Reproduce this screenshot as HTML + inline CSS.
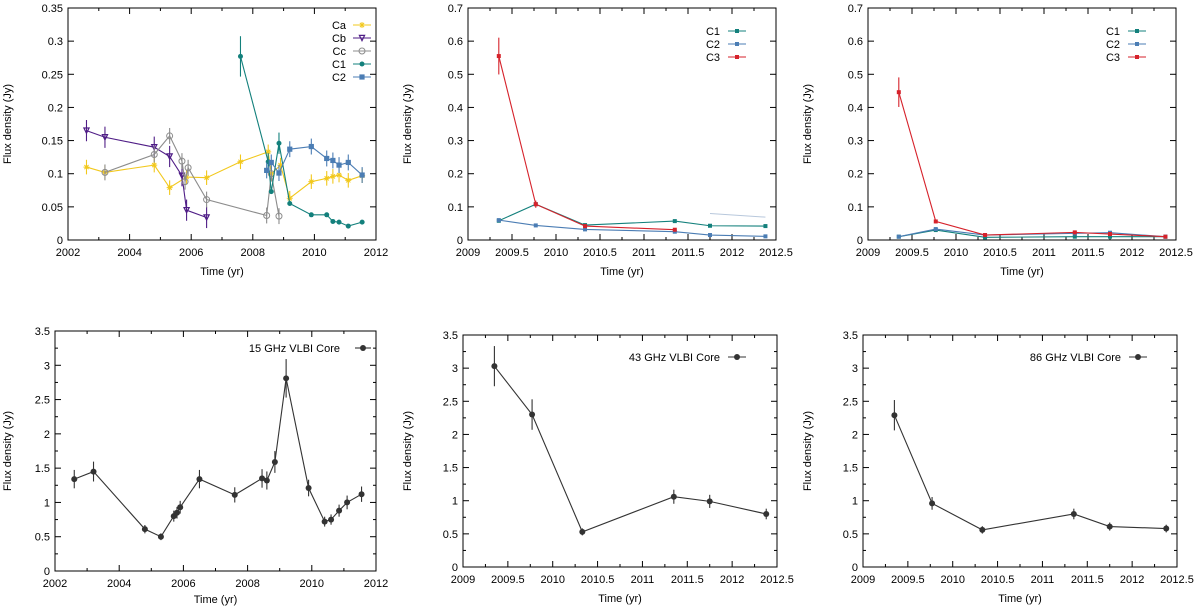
<!DOCTYPE html>
<html><head><meta charset="utf-8"><style>
body{margin:0;background:#fff;}
svg{display:block;font-family:"Liberation Sans",sans-serif;}
</style></head><body>
<svg id="fig" width="1200" height="609" viewBox="0 0 1200 609"></svg>
<script>
// ---- Data ----
const caX=[2002.6,2003.2,2004.8,2005.3,2005.85,2006.5,2007.6,2008.5,2008.6,2008.9,2009.2,2009.9,2010.4,2010.6,2010.8,2011.1,2011.55];
const caY=[0.11,0.102,0.113,0.079,0.095,0.094,0.118,0.133,0.10,0.113,0.063,0.088,0.093,0.096,0.098,0.09,0.097];
const cbX=[2002.6,2003.2,2004.8,2005.3,2005.7,2005.85,2006.5];
const cbY=[0.165,0.155,0.14,0.126,0.097,0.045,0.034];
const ccX=[2003.2,2004.8,2005.3,2005.7,2005.8,2005.9,2006.5,2008.45,2008.6,2008.85];
const ccY=[0.102,0.129,0.157,0.119,0.088,0.109,0.061,0.037,0.10,0.036];
const c1X=[2007.6,2008.5,2008.6,2008.85,2009.2,2009.9,2010.4,2010.6,2010.8,2011.1,2011.55];
const c1Y=[0.277,0.118,0.073,0.146,0.055,0.038,0.038,0.028,0.027,0.021,0.027];
const c2X=[2008.45,2008.6,2008.85,2009.2,2009.9,2010.4,2010.6,2010.8,2011.1,2011.55];
const c2Y=[0.105,0.117,0.101,0.137,0.141,0.123,0.12,0.113,0.117,0.098];

const epochX=[2009.35,2009.77,2010.33,2011.35,2011.75,2012.38];
const m43C1=[0.058,0.108,0.045,0.057,0.043,0.042];
const m43C2=[0.06,0.044,0.032,0.025,0.015,0.011];
const m43C3=[0.555,0.108,0.042,0.031];
const m86C1=[0.01,0.03,0.008,0.01,0.01,0.01];
const m86C2=[0.01,0.033,0.015,0.02,0.022,0.01];
const m86C3=[0.446,0.056,0.015,0.023,0.018,0.01];

const core15X=[2002.6,2003.2,2004.8,2005.3,2005.7,2005.8,2005.9,2006.5,2007.6,2008.45,2008.6,2008.85,2009.2,2009.9,2010.4,2010.6,2010.85,2011.1,2011.55];
const core15Y=[1.34,1.45,0.61,0.50,0.80,0.85,0.93,1.34,1.11,1.35,1.32,1.59,2.81,1.21,0.72,0.75,0.88,1.0,1.12];
const core43Y=[3.03,2.30,0.53,1.06,0.99,0.80];
const core86Y=[2.29,0.96,0.56,0.80,0.61,0.58];

const ticksYearA=[2002,2004,2006,2008,2010,2012];
const ticksYearB=[2009,2009.5,2010,2010.5,2011,2011.5,2012,2012.5];
const ticksSmall=[0,0.05,0.1,0.15,0.2,0.25,0.3,0.35];
const ticksMid=[0,0.1,0.2,0.3,0.4,0.5,0.6,0.7];
const ticksCore=[0,0.5,1,1.5,2,2.5,3,3.5];

// ---- Drawing ----
const NS="http://www.w3.org/2000/svg";
const svg=document.getElementById('fig');
function el(tag,attrs,parent,name){const e=document.createElementNS(NS,tag);for(const k in attrs)e.setAttribute(k,attrs[k]);


(parent||svg).appendChild(e);return e;}
function fmt(v){return String(+v.toFixed(3));}

function panel(cfg){
  const g=el('g',{},svg,cfg.name);
  const {L,R,T,B,x0,x1,y0,y1}=cfg;
  const sx=v=>L+(v-x0)/(x1-x0)*(R-L), sy=v=>B-(v-y0)/(y1-y0)*(B-T);
  el('rect',{x:L,y:T,width:R-L,height:B-T,fill:'none',stroke:'#000','stroke-width':1},g,'plot-frame');
  const xt=cfg.xticks, yt=cfg.yticks;
  xt.forEach((v,i)=>{const x=sx(v);
    el('line',{x1:x,x2:x,y1:B,y2:B-6,stroke:'#000'},g,'x-tick');
    el('line',{x1:x,x2:x,y1:T,y2:T+6,stroke:'#000'},g,'x-tick');
    if(i<xt.length-1){const xm=sx((v+xt[i+1])/2);
      el('line',{x1:xm,x2:xm,y1:B,y2:B-3,stroke:'#000'},g,'x-minor-tick');
      el('line',{x1:xm,x2:xm,y1:T,y2:T+3,stroke:'#000'},g,'x-minor-tick');}
    const t=el('text',{x:x,y:B+16,'font-size':11,'text-anchor':'middle'},g,'x-tick-label');t.textContent=fmt(v);});
  yt.forEach((v,i)=>{const y=sy(v);
    el('line',{x1:L,x2:L+6,y1:y,y2:y,stroke:'#000'},g,'y-tick');
    el('line',{x1:R,x2:R-6,y1:y,y2:y,stroke:'#000'},g,'y-tick');
    if(cfg.yminor&&i<yt.length-1){const ym=sy((v+yt[i+1])/2);
      el('line',{x1:L,x2:L+3,y1:ym,y2:ym,stroke:'#000'},g,'y-minor-tick');
      el('line',{x1:R,x2:R-3,y1:ym,y2:ym,stroke:'#000'},g,'y-minor-tick');}
    const t=el('text',{x:L-5,y:y+4,'font-size':11,'text-anchor':'end'},g,'y-tick-label');t.textContent=fmt(v);});
  const xtit=el('text',{x:(L+R)/2,y:B+(cfg.xtitleDy||34),'font-size':11,'text-anchor':'middle'},g,'x-axis-title');xtit.textContent='Time (yr)';
  const yx=cfg.ytitleX, yy=(T+B)/2;
  const ytit=el('text',{x:yx,y:yy,'font-size':11,'text-anchor':'middle',transform:`rotate(-90 ${yx} ${yy})`},g,'y-axis-title');ytit.textContent='Flux density (Jy)';
  cfg.series.forEach((s,si)=>{
    const sg=el('g',{},g,'series-'+s.label.toLowerCase().replace(/\s+/g,'-'));
    const pts=s.y.map((v,i)=>[sx(s.x[i]),sy(v)]);
    el('polyline',{points:pts.map(p=>p.join(',')).join(' '),fill:'none',stroke:s.color,'stroke-width':s.lw||1.1},sg,'series-line');
    pts.forEach((p,i)=>{
      const e=(s.err?s.err(s.y[i]):0);
      if(e>0){el('line',{x1:p[0],x2:p[0],y1:sy(s.y[i]-e),y2:sy(s.y[i]+e),stroke:s.color,'stroke-width':1.1},sg,'error-bar');}
      marker(sg,s.marker,p[0],p[1],s.color,s.size||3);
    });
    if(s.legY!==undefined){
      const lt=el('text',{x:cfg.legTextX,y:s.legY+4,'font-size':11,'text-anchor':'end'},g,'legend-label');lt.textContent=s.label;
      el('line',{x1:cfg.legLine[0],x2:cfg.legLine[1],y1:s.legY,y2:s.legY,stroke:s.color,'stroke-width':1.1},g,'legend-line');
      marker(g,s.marker,(cfg.legLine[0]+cfg.legLine[1])/2,s.legY,s.color,s.size||3);
    }
  });
  if(cfg.extra)cfg.extra(g,sx,sy);
}
function marker(g,type,x,y,c,r){
  if(type==='circle')el('circle',{cx:x,cy:y,r:r,fill:c},g,'marker');
  else if(type==='ocircle')el('circle',{cx:x,cy:y,r:r,fill:'none',stroke:c,'stroke-width':1},g,'marker');
  else if(type==='square')el('rect',{x:x-r,y:y-r,width:2*r,height:2*r,fill:c},g,'marker');
  else if(type==='tri')el('polygon',{points:`${x-r},${y-r} ${x+r},${y-r} ${x},${y+r}`,fill:'none',stroke:c,'stroke-width':1.2},g,'marker');
  else if(type==='star'){el('path',{d:`M${x-r} ${y}H${x+r}M${x} ${y-r}V${y+r}M${x-r*.7} ${y-r*.7}L${x+r*.7} ${y+r*.7}M${x-r*.7} ${y+r*.7}L${x+r*.7} ${y-r*.7}`,stroke:c,'stroke-width':1},g,'marker');}
}
const YEL='#f2c81c',PUR='#4f1d86',GRY='#8c8c8c',TEA='#13807c',BLU='#4b7db4',RED='#d6222b',DK='#333';

panel({name:'panel-components-15ghz',L:68,R:376,T:8,B:240,x0:2002,x1:2012,y0:0,y1:0.35,xticks:ticksYearA,yticks:ticksSmall,yminor:false,ytitleX:11,xtitleDy:35,
  legTextX:346,legLine:[353,371],series:[
  {label:'Ca',x:caX,y:caY,color:YEL,marker:'star',err:v=>0.011,legY:25},
  {label:'Cb',x:cbX,y:cbY,color:PUR,marker:'tri',size:2.6,err:v=>0.016,legY:38},
  {label:'Cc',x:ccX,y:ccY,color:GRY,marker:'ocircle',err:v=>0.012,legY:51},
  {label:'C1',x:c1X,y:c1Y,color:TEA,marker:'circle',size:2.5,err:v=>v>0.1?v*0.11:0,legY:64},
  {label:'C2',x:c2X,y:c2Y,color:BLU,marker:'square',size:2.6,err:v=>0.012,legY:77}]});

panel({name:'panel-components-43ghz',L:468,R:776,T:8,B:240,x0:2009,x1:2012.5,y0:0,y1:0.7,xticks:ticksYearB,yticks:ticksMid,yminor:false,ytitleX:411,xtitleDy:35,
  legTextX:720,legLine:[728,746],series:[
  {label:'C1',x:epochX,y:m43C1,color:TEA,marker:'square',size:2,err:v=>0.004,legY:31},
  {label:'C2',x:epochX,y:m43C2,color:BLU,marker:'square',size:2,err:v=>0.004,legY:44},
  {label:'C3',x:epochX,y:m43C3,color:RED,marker:'square',size:2,err:v=>v*0.1,legY:57}],
  extra:(g,sx,sy)=>{el('line',{x1:sx(2011.75),x2:sx(2012.38),y1:sy(0.08),y2:sy(0.069),stroke:'#b8c8dc','stroke-width':1},g,'faint-error-line');}});

panel({name:'panel-components-86ghz',L:868,R:1176,T:8,B:240,x0:2009,x1:2012.5,y0:0,y1:0.7,xticks:ticksYearB,yticks:ticksMid,yminor:false,ytitleX:811,xtitleDy:35,
  legTextX:1120,legLine:[1128,1146],series:[
  {label:'C1',x:epochX,y:m86C1,color:TEA,marker:'square',size:2,err:v=>0.003,legY:31},
  {label:'C2',x:epochX,y:m86C2,color:BLU,marker:'square',size:2,err:v=>0.003,legY:44},
  {label:'C3',x:epochX,y:m86C3,color:RED,marker:'square',size:2,err:v=>v*0.1,legY:57}]});

panel({name:'panel-core-15ghz',L:55,R:376,T:331,B:571,x0:2002,x1:2012,y0:0,y1:3.5,xticks:ticksYearA,yticks:ticksCore,yminor:true,ytitleX:11,xtitleDy:32,
  legTextX:340,legLine:[355,371],series:[
  {label:'15 GHz VLBI Core',x:core15X,y:core15Y,color:DK,marker:'circle',err:v=>v*0.1,legY:348}]});

panel({name:'panel-core-43ghz',L:463,R:777,T:335,B:567,x0:2009,x1:2012.5,y0:0,y1:3.5,xticks:ticksYearB,yticks:ticksCore,yminor:true,ytitleX:411,xtitleDy:35,
  legTextX:720,legLine:[728,746],series:[
  {label:'43 GHz VLBI Core',x:epochX,y:core43Y,color:DK,marker:'circle',err:v=>v*0.1,legY:357}]});

panel({name:'panel-core-86ghz',L:863,R:1177,T:335,B:567,x0:2009,x1:2012.5,y0:0,y1:3.5,xticks:ticksYearB,yticks:ticksCore,yminor:true,ytitleX:811,xtitleDy:35,
  legTextX:1121,legLine:[1129,1147],series:[
  {label:'86 GHz VLBI Core',x:epochX,y:core86Y,color:DK,marker:'circle',err:v=>v*0.1,legY:357}]});
</script>
</body></html>
